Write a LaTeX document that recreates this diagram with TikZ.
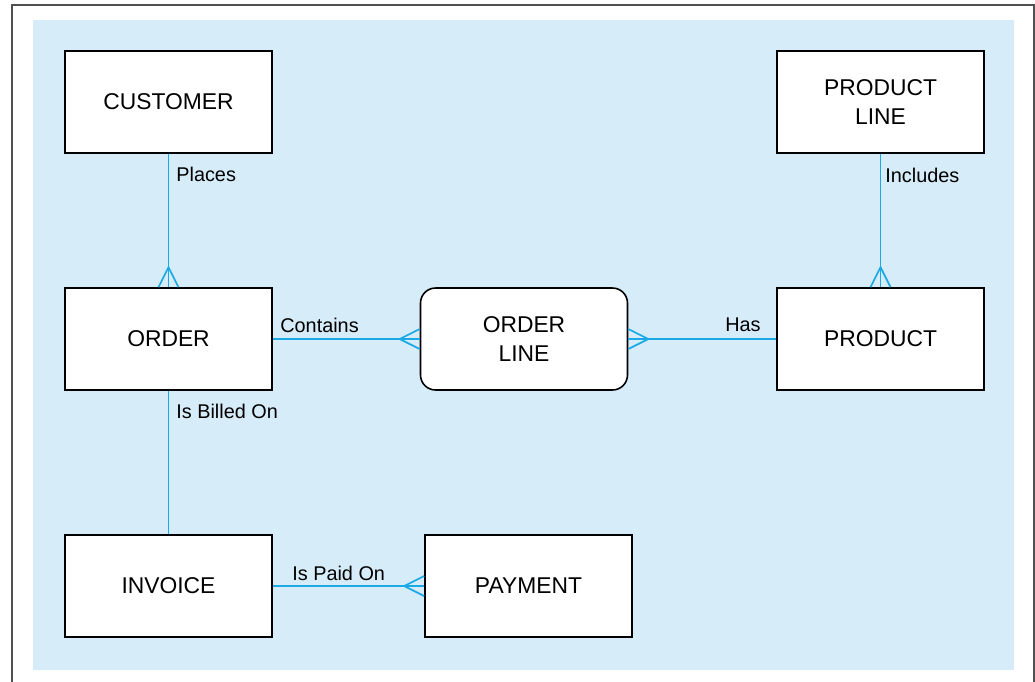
\documentclass[tikz,border=0pt]{standalone}
\usepackage{fontspec}
\setmainfont{Liberation Sans}
\usetikzlibrary{calc}
\definecolor{paneblue}{RGB}{214,236,249}
\definecolor{relcyan}{RGB}{28,170,230}
\definecolor{framegray}{RGB}{80,80,80}
\tikzset{
    entity/.style={draw=black, fill=white, line width=0.9pt, minimum width=4.14cm,
        minimum height=2.04cm, inner sep=0pt, align=center, font=\fontsize{13}{16.8}\selectfont},
    assoc/.style={entity, rounded corners=0.3cm},
    rel/.style={draw=relcyan, line width=1pt},
    verb/.style={inner sep=0pt, font=\fontsize{11.3}{13}\selectfont}
}
\begin{document}
\begin{tikzpicture}[x=0.02cm, y=-0.02cm]
    \useasboundingbox (0,0) rectangle (1035,681);
    \draw[framegray, line width=1pt] (12,690) -- (12,5) -- (1034,5) -- (1034,690);
    \fill[paneblue] (33,20) rectangle (1014,670);

    \draw (168.5,102) node[entity](customer){CUSTOMER};
    \draw (880.5,102) node[entity](prodline){PRODUCT\\LINE};
    \draw (168.5,339) node[entity](order){ORDER};
    \draw (524,339) node[assoc](orderline){ORDER\\LINE};
    \draw (880.5,339) node[entity](product){PRODUCT};
    \draw (168.5,586) node[entity](invoice){INVOICE};
    \draw (528.5,586) node[entity](payment){PAYMENT};

    \draw[rel] (customer.south) -- (order.north);
    \draw[rel] ($(order.north)+(-10,0)$) -- ($(order.north)+(0,-20)$) -- ($(order.north)+(10,0)$);
    \draw[rel] (prodline.south) -- (product.north);
    \draw[rel] ($(product.north)+(-10,0)$) -- ($(product.north)+(0,-20)$) -- ($(product.north)+(10,0)$);
    \draw[rel] (order.east) -- (orderline.west);
    \draw[rel] ($(orderline.west)+(0,-10)$) -- ($(orderline.west)+(-20,0)$) -- ($(orderline.west)+(0,10)$);
    \draw[rel] (product.west) -- (orderline.east);
    \draw[rel] ($(orderline.east)+(0,-10)$) -- ($(orderline.east)+(20,0)$) -- ($(orderline.east)+(0,10)$);
    \draw[rel] (order.south) -- (invoice.north);
    \draw[rel] (invoice.east) -- (payment.west);
    \draw[rel] ($(payment.west)+(0,-10)$) -- ($(payment.west)+(-20,0)$) -- ($(payment.west)+(0,10)$);

    \node[verb, anchor=west] (places) at (176,174) {Places};
    \node[verb, anchor=west] (includes) at (885,175) {Includes};
    \node[verb, anchor=west] (contains) at (280,325) {Contains};
    \node[verb, anchor=east] (has) at (761,325) {Has};
    \node[verb, anchor=west] (billed) at (176,411) {Is Billed On};
    \node[verb, anchor=west] (paid) at (292,573) {Is Paid On};
\end{tikzpicture}
\end{document}
